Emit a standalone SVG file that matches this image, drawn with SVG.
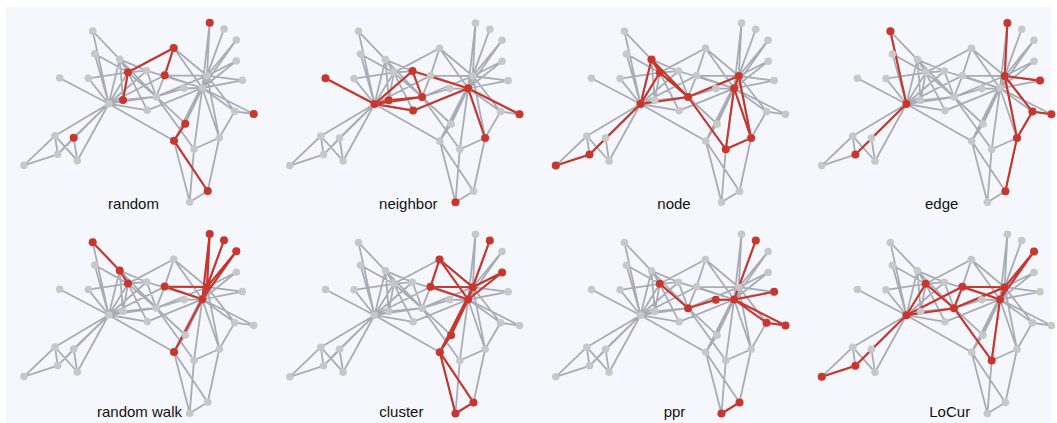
<svg xmlns="http://www.w3.org/2000/svg" xmlns:xlink="http://www.w3.org/1999/xlink" width="1057" height="423" viewBox="0 0 1057 423">
<style>
.e{fill:none;stroke:#a8acb5;stroke-width:1.8;stroke-linecap:round}
.r{fill:none;stroke:#c8362d;stroke-width:2.1;stroke-linecap:round}
.n circle{fill:#c8c8c8}
.rn circle{fill:#c8362d}
.lbl{font-family:"Liberation Sans",Arial,sans-serif;font-size:15px;fill:#111;text-anchor:middle}
</style>
<defs>
<g id="edges">
<path class="e" d="M108.7 103.7L128 72.3M108.7 103.7L156.3 96.7M108.7 103.7L119.7 59.3M108.7 103.7L73.7 137.7M108.7 103.7L55 135.7M108.7 103.7L57.7 154.3M108.7 103.7L123 100M108.7 103.7L164.7 75.3M108.7 103.7L77.3 160.7M108.7 103.7L59.7 78M108.7 103.7L92.7 31M108.7 103.7L146.7 70.7M108.7 103.7L88.3 78.3M108.7 103.7L147.3 110.3M108.7 103.7L94.7 53.7M108.7 103.7L174 140.7M128 72.3L156.3 96.7M128 72.3L119.7 59.3M128 72.3L123 100M128 72.3L146.7 70.7M128 72.3L88.3 78.3M128 72.3L147.3 110.3M128 72.3L94.7 53.7M128 72.3L173.7 48M156.3 96.7L119.7 59.3M156.3 96.7L123 100M156.3 96.7L164.7 75.3M156.3 96.7L184 88.3M156.3 96.7L146.7 70.7M156.3 96.7L194 149M156.3 96.7L185.3 123.7M156.3 96.7L207 75.7M119.7 59.3L123 100M119.7 59.3L92.7 31M119.7 59.3L146.7 70.7M73.7 137.7L57.7 154.3M73.7 137.7L77.3 160.7M55 135.7L57.7 154.3M55 135.7L77.3 160.7M55 135.7L24 165.3M57.7 154.3L24 165.3M164.7 75.3L173.7 48M164.7 75.3L207 75.7M164.7 75.3L202.3 88M184 88.3L202.3 88M146.7 70.7L202.3 88M209.7 22.7L207 75.7M209.7 22.7L202.3 88M224 29L207 75.7M224 29L202.3 88M236.3 40L207 75.7M236.3 40L202.3 88M147.3 110.3L202.3 88M236.3 61L207 75.7M236.3 61L202.3 88M242.3 80.3L207 75.7M242.3 80.3L202.3 88M219.3 137.7L207.7 191M219.3 137.7L194 149M219.3 137.7L234.7 111.3M219.3 137.7L207 75.7M219.3 137.7L202.3 88M189.7 202L207.7 191M189.7 202L194 149M189.7 202L174 140.7M207.7 191L174 140.7M253.7 114L234.7 111.3M253.7 114L202.3 88M194 149L202.3 88M185.3 123.7L174 140.7M185.3 123.7L202.3 88M234.7 111.3L207 75.7M234.7 111.3L202.3 88M173.7 48L207 75.7M173.7 48L202.3 88M174 140.7L207 75.7M174 140.7L202.3 88M207 75.7L202.3 88"/>
</g>
<g id="nodes" class="n">
<g id="n1"><circle cx="108.7" cy="103.7" r="3.8"/></g>
<g id="n2"><circle cx="128" cy="72.3" r="3.8"/></g>
<g id="n3"><circle cx="156.3" cy="96.7" r="3.8"/></g>
<g id="n4"><circle cx="119.7" cy="59.3" r="3.8"/></g>
<g id="n5"><circle cx="73.7" cy="137.7" r="3.8"/></g>
<g id="n6"><circle cx="55" cy="135.7" r="3.8"/></g>
<g id="n7"><circle cx="57.7" cy="154.3" r="3.8"/></g>
<g id="n8"><circle cx="123" cy="100" r="3.8"/></g>
<g id="n9"><circle cx="164.7" cy="75.3" r="3.8"/></g>
<g id="n10"><circle cx="184" cy="88.3" r="3.8"/></g>
<g id="n11"><circle cx="77.3" cy="160.7" r="3.8"/></g>
<g id="n12"><circle cx="59.7" cy="78" r="3.8"/></g>
<g id="n13"><circle cx="92.7" cy="31" r="3.8"/></g>
<g id="n14"><circle cx="146.7" cy="70.7" r="3.8"/></g>
<g id="n15"><circle cx="209.7" cy="22.7" r="3.8"/></g>
<g id="n16"><circle cx="224" cy="29" r="3.8"/></g>
<g id="n17"><circle cx="24" cy="165.3" r="3.8"/></g>
<g id="n18"><circle cx="88.3" cy="78.3" r="3.8"/></g>
<g id="n19"><circle cx="236.3" cy="40" r="3.8"/></g>
<g id="n20"><circle cx="147.3" cy="110.3" r="3.8"/></g>
<g id="n21"><circle cx="236.3" cy="61" r="3.8"/></g>
<g id="n22"><circle cx="94.7" cy="53.7" r="3.8"/></g>
<g id="n23"><circle cx="242.3" cy="80.3" r="3.8"/></g>
<g id="n24"><circle cx="219.3" cy="137.7" r="3.8"/></g>
<g id="n25"><circle cx="189.7" cy="202" r="3.8"/></g>
<g id="n26"><circle cx="207.7" cy="191" r="3.8"/></g>
<g id="n27"><circle cx="253.7" cy="114" r="3.8"/></g>
<g id="n28"><circle cx="194" cy="149" r="3.8"/></g>
<g id="n29"><circle cx="185.3" cy="123.7" r="3.8"/></g>
<g id="n30"><circle cx="234.7" cy="111.3" r="3.8"/></g>
<g id="n31"><circle cx="173.7" cy="48" r="3.8"/></g>
<g id="n32"><circle cx="174" cy="140.7" r="3.8"/></g>
<g id="n33"><circle cx="207" cy="75.7" r="3.8"/></g>
<g id="n34"><circle cx="202.3" cy="88" r="3.8"/></g>
</g>
</defs>
<rect x="6" y="7" width="1045" height="416" fill="#f6f7fc"/>

<g id="panel-random" transform="translate(0,0)">
<use xlink:href="#edges" href="#edges"/>
<g id="connectors-random"><path class="r" d="M128 72.3L173.7 48L164.7 75.3M128 72.3L123 100M185.3 123.7L174 140.7L207.7 191"/></g>
<use xlink:href="#nodes" href="#nodes"/>
<g class="rn"><circle cx="209.7" cy="22.7" r="4"/><circle cx="173.7" cy="48" r="4"/><circle cx="164.7" cy="75.3" r="4"/><circle cx="128" cy="72.3" r="4"/><circle cx="123" cy="100" r="4"/><circle cx="185.3" cy="123.7" r="4"/><circle cx="174" cy="140.7" r="4"/><circle cx="207.7" cy="191" r="4"/><circle cx="73.7" cy="137.7" r="4"/><circle cx="253.7" cy="114" r="4"/></g>
</g>

<g id="panel-neighbor" transform="translate(265.8,0.3)">
<use xlink:href="#edges" href="#edges"/>
<g id="connectors-neighbor"><path class="r" d="M108.7 103.7L59.7 78M108.7 103.7L123 100L156.3 96.7L108.7 103.7M108.7 103.7L147.3 110.3L202.3 88M108.7 103.7L146.7 70.7L156.3 96.7M146.7 70.7L202.3 88L253.7 114M202.3 88L219.3 137.7"/></g>
<use xlink:href="#nodes" href="#nodes"/>
<g class="rn"><circle cx="59.7" cy="78" r="4"/><circle cx="108.7" cy="103.7" r="4"/><circle cx="123" cy="100" r="4"/><circle cx="156.3" cy="96.7" r="4"/><circle cx="147.3" cy="110.3" r="4"/><circle cx="146.7" cy="70.7" r="4"/><circle cx="202.3" cy="88" r="4"/><circle cx="253.7" cy="114" r="4"/><circle cx="219.3" cy="137.7" r="4"/><circle cx="189.7" cy="202" r="4"/></g>
</g>

<g id="panel-node" transform="translate(531.8,0.3)">
<use xlink:href="#edges" href="#edges"/>
<g id="connectors-node"><path class="r" d="M24 165.3L57.7 154.3L108.7 103.7M108.7 103.7L119.7 59.3L128 72.3L108.7 103.7L156.3 96.7L119.7 59.3M128 72.3L156.3 96.7L207 75.7L202.3 88L194 149L156.3 96.7M194 149L219.3 137.7L207 75.7M219.3 137.7L202.3 88"/></g>
<use xlink:href="#nodes" href="#nodes"/>
<g class="rn"><circle cx="24" cy="165.3" r="4"/><circle cx="57.7" cy="154.3" r="4"/><circle cx="108.7" cy="103.7" r="4"/><circle cx="119.7" cy="59.3" r="4"/><circle cx="128" cy="72.3" r="4"/><circle cx="156.3" cy="96.7" r="4"/><circle cx="207" cy="75.7" r="4"/><circle cx="202.3" cy="88" r="4"/><circle cx="194" cy="149" r="4"/><circle cx="219.3" cy="137.7" r="4"/></g>
</g>

<g id="panel-edge" transform="translate(797.7,0.3)">
<use xlink:href="#edges" href="#edges"/>
<g id="connectors-edge"><path class="r" d="M92.7 31L108.7 103.7L57.7 154.3M209.7 22.7L207 75.7L242.3 80.3M207 75.7L234.7 111.3L253.7 114M234.7 111.3L219.3 137.7L207 75.7M219.3 137.7L207.7 191"/></g>
<use xlink:href="#nodes" href="#nodes"/>
<g class="rn"><circle cx="92.7" cy="31" r="4"/><circle cx="108.7" cy="103.7" r="4"/><circle cx="57.7" cy="154.3" r="4"/><circle cx="209.7" cy="22.7" r="4"/><circle cx="207" cy="75.7" r="4"/><circle cx="242.3" cy="80.3" r="4"/><circle cx="234.7" cy="111.3" r="4"/><circle cx="253.7" cy="114" r="4"/><circle cx="219.3" cy="137.7" r="4"/><circle cx="207.7" cy="191" r="4"/></g>
</g>

<g id="panel-random-walk" transform="translate(0,211.3)">
<use xlink:href="#edges" href="#edges"/>
<g id="connectors-random-walk"><path class="r" d="M92.7 31L119.7 59.3L128 72.3M164.7 75.3L207 75.7L202.3 88L164.7 75.3M202.3 88L174 140.7M209.7 22.7L207 75.7M209.7 22.7L202.3 88M224 29L207 75.7M224 29L202.3 88M236.3 40L207 75.7M236.3 40L202.3 88"/></g>
<use xlink:href="#nodes" href="#nodes"/>
<g class="rn"><circle cx="92.7" cy="31" r="4"/><circle cx="119.7" cy="59.3" r="4"/><circle cx="128" cy="72.3" r="4"/><circle cx="164.7" cy="75.3" r="4"/><circle cx="207" cy="75.7" r="4"/><circle cx="202.3" cy="88" r="4"/><circle cx="174" cy="140.7" r="4"/><circle cx="209.7" cy="22.7" r="4"/><circle cx="224" cy="29" r="4"/><circle cx="236.3" cy="40" r="4"/></g>
</g>

<g id="panel-cluster" transform="translate(265.8,211.5)">
<use xlink:href="#edges" href="#edges"/>
<g id="connectors-cluster"><path class="r" d="M173.7 48L164.7 75.3L207 75.7L173.7 48L202.3 88L164.7 75.3M207 75.7L202.3 88M224 29L207 75.7M224 29L202.3 88M236.3 61L207 75.7M236.3 61L202.3 88M202.3 88L185.3 123.7L174 140.7L202.3 88M174 140.7L207 75.7M174 140.7L189.7 202L207.7 191L174 140.7"/></g>
<use xlink:href="#nodes" href="#nodes"/>
<g class="rn"><circle cx="173.7" cy="48" r="4"/><circle cx="164.7" cy="75.3" r="4"/><circle cx="207" cy="75.7" r="4"/><circle cx="202.3" cy="88" r="4"/><circle cx="224" cy="29" r="4"/><circle cx="236.3" cy="61" r="4"/><circle cx="185.3" cy="123.7" r="4"/><circle cx="174" cy="140.7" r="4"/><circle cx="189.7" cy="202" r="4"/><circle cx="207.7" cy="191" r="4"/></g>
</g>

<g id="panel-ppr" transform="translate(531.8,211.5)">
<use xlink:href="#edges" href="#edges"/>
<g id="connectors-ppr"><path class="r" d="M128 72.3L156.3 96.7L184 88.3L202.3 88M224 29L202.3 88M242.3 80.3L202.3 88M234.7 111.3L202.3 88L253.7 114L234.7 111.3M189.7 202L207.7 191"/></g>
<use xlink:href="#nodes" href="#nodes"/>
<g class="rn"><circle cx="224" cy="29" r="4"/><circle cx="128" cy="72.3" r="4"/><circle cx="156.3" cy="96.7" r="4"/><circle cx="184" cy="88.3" r="4"/><circle cx="202.3" cy="88" r="4"/><circle cx="242.3" cy="80.3" r="4"/><circle cx="234.7" cy="111.3" r="4"/><circle cx="253.7" cy="114" r="4"/><circle cx="189.7" cy="202" r="4"/><circle cx="207.7" cy="191" r="4"/></g>
</g>

<g id="panel-locur" transform="translate(797.7,211.5)">
<use xlink:href="#edges" href="#edges"/>
<g id="connectors-locur"><path class="r" d="M24 165.3L57.7 154.3L108.7 103.7L128 72.3L156.3 96.7L108.7 103.7L164.7 75.3L156.3 96.7M164.7 75.3L207 75.7L202.3 88L164.7 75.3M156.3 96.7L207 75.7M236.3 40L207 75.7M236.3 40L202.3 88M202.3 88L194 149L156.3 96.7"/></g>
<use xlink:href="#nodes" href="#nodes"/>
<g class="rn"><circle cx="24" cy="165.3" r="4"/><circle cx="57.7" cy="154.3" r="4"/><circle cx="108.7" cy="103.7" r="4"/><circle cx="128" cy="72.3" r="4"/><circle cx="164.7" cy="75.3" r="4"/><circle cx="156.3" cy="96.7" r="4"/><circle cx="207" cy="75.7" r="4"/><circle cx="202.3" cy="88" r="4"/><circle cx="236.3" cy="40" r="4"/><circle cx="194" cy="149" r="4"/></g>
</g>

<g id="labels">
<text class="lbl" x="133.5" y="209">random</text>
<text class="lbl" x="408.3" y="209">neighbor</text>
<text class="lbl" x="674" y="209">node</text>
<text class="lbl" x="941.7" y="209">edge</text>
<text class="lbl" x="139.5" y="417">random walk</text>
<text class="lbl" x="401.3" y="417">cluster</text>
<text class="lbl" x="674.5" y="417">ppr</text>
<text class="lbl" x="949.7" y="417">LoCur</text>
</g>
</svg>
